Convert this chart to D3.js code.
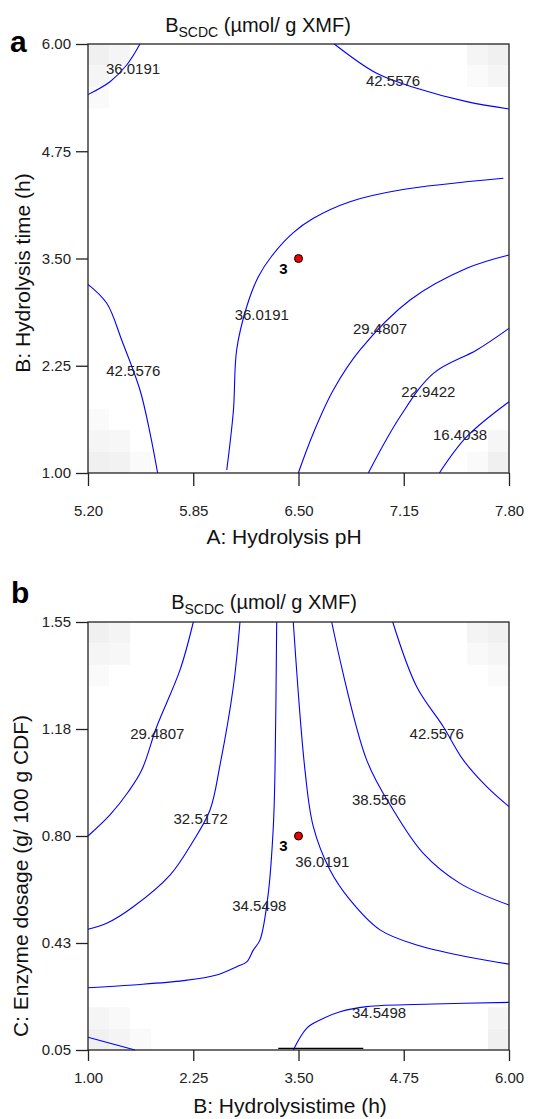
<!DOCTYPE html>
<html>
<head>
<meta charset="utf-8">
<script src="https://cdn.jsdelivr.net/npm/d3@7"></script>
<style>
  body { margin: 0; background: #fff; }
  svg { display: block; font-family: "Liberation Sans", Arial, sans-serif; }
</style>
</head>
<body>
<svg id="chart" width="534" height="1119"></svg>
<script>
// ---- data ----

// tick values and their printed labels
const phTicks = [5.2, 5.85, 6.5, 7.15, 7.8];
const phTickLabels = ['5.20', '5.85', '6.50', '7.15', '7.80'];
const timeTicks = [1, 2.25, 3.5, 4.75, 6];
const timeTickLabels = ['1.00', '2.25', '3.50', '4.75', '6.00'];
const dosageTicks = [0.05, 0.425, 0.8, 1.175, 1.55];
const dosageTickLabels = ['0.05', '0.43', '0.80', '1.18', '1.55'];

// panel a contours: [pH, time]
const contoursA = [
    [[5.2, 5.41], [5.336, 5.56], [5.439, 5.755], [5.521, 6.0]],
    [[6.721, 6.0], [6.983, 5.658], [7.23, 5.484], [7.539, 5.328], [7.8, 5.242]],
    [[7.765, 4.435], [7.127, 4.298], [6.818, 4.162], [6.592, 3.969], [6.468, 3.801],
     [6.335, 3.529], [6.252, 3.288], [6.18, 2.938], [6.118, 2.434], [6.098, 1.728], [6.057, 1.035]],
    [[5.2, 3.199], [5.316, 2.978], [5.408, 2.55], [5.521, 1.967], [5.583, 1.466], [5.63, 1.0]],
    [[7.8, 3.541], [7.539, 3.386], [7.189, 3.016], [6.88, 2.434], [6.715, 1.967], [6.592, 1.466], [6.499, 1.0]],
    [[7.8, 2.686], [7.601, 2.434], [7.333, 2.162], [7.127, 1.656], [6.931, 1.0]],
    [[7.8, 1.831], [7.539, 1.423], [7.37, 1.0]]
];
const labelsA = [
    ['36.0191', 5.478, 5.709],
    ['42.5576', 7.084, 5.572],
    ['36.0191', 6.273, 2.841],
    ['29.4807', 7.004, 2.686],
    ['42.5576', 5.48, 2.19],
    ['22.9422', 7.302, 1.948],
    ['16.4038', 7.498, 1.443]
];
const centerA = [6.5, 3.5];

// panel b contours: [time, dosage]
const contoursB = [
    [[2.251, 1.55], [2.093, 1.382], [1.816, 1.183], [1.638, 1.031], [1.479, 0.955], [1.261, 0.874], [1.0, 0.8]],
    [[2.805, 1.55], [2.726, 1.323], [2.568, 1.049], [2.449, 0.891], [2.232, 0.774], [1.974, 0.663],
     [1.538, 0.552], [1.222, 0.494], [1.0, 0.473]],
    [[3.241, 1.55], [3.221, 1.031], [3.201, 0.833], [3.141, 0.599], [3.043, 0.436], [2.963, 0.4],
     [2.885, 0.359], [2.766, 0.342], [2.528, 0.313], [2.132, 0.293], [1.538, 0.278], [1.0, 0.268]],
    [[3.438, 1.55], [3.577, 1.031], [3.676, 0.833], [3.874, 0.681], [4.112, 0.576], [4.468, 0.471],
     [4.904, 0.418], [5.498, 0.377], [6.0, 0.351]],
    [[3.894, 1.55], [4.31, 1.066], [4.626, 0.891], [4.982, 0.739], [5.418, 0.634], [6.0, 0.558]],
    [[4.619, 1.55], [4.904, 1.323], [5.22, 1.183], [5.458, 1.066], [5.735, 0.973], [6.0, 0.903]],
    [[3.438, 0.05], [3.597, 0.126], [3.755, 0.155], [3.993, 0.184], [4.31, 0.202], [5.101, 0.211], [6.0, 0.217]],
    [[1.0, 0.095], [1.558, 0.05]]
];
const labelsB = [
    ['29.4807', 1.823, 1.16],
    ['42.5576', 5.141, 1.16],
    ['38.5566', 4.456, 0.926],
    ['32.5172', 2.338, 0.86],
    ['36.0191', 3.783, 0.71],
    ['34.5498', 3.035, 0.556],
    ['34.5498', 4.456, 0.182]
];
const centerB = [3.5, 0.8];
const baseSegmentB = [[3.26, 0.056], [4.27, 0.056]];

// faint grey background cells near the corners: [x, y, shade]
const shadeA = [
    [5.2, 5.75, 0.06], [5.33, 5.75, 0.04], [5.2, 5.5, 0.04], [5.2, 5.25, 0.02],
    [7.67, 5.75, 0.06], [7.54, 5.75, 0.04], [7.67, 5.5, 0.04], [7.54, 5.5, 0.02],
    [5.2, 1.0, 0.06], [5.33, 1.0, 0.05], [5.46, 1.0, 0.02], [5.2, 1.25, 0.04],
    [5.33, 1.25, 0.03], [5.2, 1.5, 0.02],
    [7.67, 1.0, 0.06], [7.67, 1.25, 0.035], [7.54, 1.0, 0.02]
];
const shadeB = [
    [1.0, 1.475, 0.06], [1.25, 1.475, 0.045], [1.0, 1.4, 0.04], [1.25, 1.4, 0.03], [1.0, 1.325, 0.02],
    [5.75, 1.475, 0.06], [5.5, 1.475, 0.045], [5.75, 1.4, 0.04], [5.5, 1.4, 0.025], [5.75, 1.325, 0.02],
    [1.0, 0.05, 0.06], [1.25, 0.05, 0.045], [1.5, 0.05, 0.02], [1.0, 0.125, 0.04], [1.25, 0.125, 0.025],
    [5.75, 0.05, 0.06], [5.75, 0.125, 0.045]
];

const svg = d3.select('#chart');
const grey = d3.scaleLinear().domain([0, 1]).range(['#ffffff', '#000000']);

function drawPanel(p) {
    const x = d3.scaleLinear().domain(p.xDomain).range([88, 509]);
    const y = d3.scaleLinear().domain(p.yDomain).range([p.bottom, p.top]);
    const g = svg.append('g');

    // background cells
    g.selectAll('.cell')
        .data(p.shade)
        .enter()
        .append('rect')
        .attr('x', (d) => x(d[0]))
        .attr('y', (d) => y(d[1] + p.cell[1]))
        .attr('width', (d) => x(d[0] + p.cell[0]) - x(d[0]))
        .attr('height', (d) => y(d[1]) - y(d[1] + p.cell[1]))
        .attr('fill', (d) => grey(d[2]));

    const line = d3.line()
        .x((d) => x(d[0]))
        .y((d) => y(d[1]))
        .curve(d3.curveCatmullRom.alpha(0.5));

    g.selectAll('.contour')
        .data(p.contours)
        .enter()
        .append('path')
        .attr('d', line)
        .attr('fill', 'none')
        .attr('stroke', '#0000ff')
        .attr('stroke-width', 1.1);

    g.selectAll('.clabel')
        .data(p.labels)
        .enter()
        .append('text')
        .attr('x', (d) => x(d[1]))
        .attr('y', (d) => y(d[2]))
        .attr('dy', '0.35em')
        .attr('text-anchor', 'middle')
        .attr('font-size', 15)
        .attr('fill', '#222')
        .text((d) => d[0]);

    if (p.segment) {
        g.append('path')
            .attr('d', d3.line().x((d) => x(d[0])).y((d) => y(d[1]))(p.segment))
            .attr('stroke', '#000')
            .attr('stroke-width', 1.2);
    }

    // frame
    g.append('rect')
        .attr('x', 88).attr('y', p.top)
        .attr('width', 421).attr('height', p.bottom - p.top)
        .attr('fill', 'none')
        .attr('stroke', '#222')
        .attr('stroke-width', 1.3);

    // axes
    const xAxis = g.append('g')
        .attr('transform', `translate(0, ${p.bottom})`)
        .call(d3.axisBottom(x)
            .tickValues(p.xTicks)
            .tickFormat((d, i) => p.xTickLabels[i])
            .tickSize(p.xTickSize)
            .tickSizeOuter(0)
            .tickPadding(p.xPad));
    const yAxis = g.append('g')
        .attr('transform', 'translate(88, 0)')
        .call(d3.axisLeft(y)
            .tickValues(p.yTicks)
            .tickFormat((d, i) => p.yTickLabels[i])
            .tickSize(12)
            .tickSizeOuter(0)
            .tickPadding(5));
    [xAxis, yAxis].forEach((a) => {
        a.select('.domain').remove();
        a.selectAll('line').attr('stroke', '#222').attr('stroke-width', 1.3);
        a.selectAll('text')
            .attr('font-size', 15)
            .attr('font-family', '"Liberation Sans", Arial, sans-serif')
            .attr('fill', '#222');
    });

    // centre point with replicate count
    const cx = x(p.center[0]);
    const cy = y(p.center[1]);
    g.append('circle')
        .attr('cx', cx).attr('cy', cy).attr('r', 4)
        .attr('fill', '#ee0000')
        .attr('stroke', '#000')
        .attr('stroke-width', 1);
    g.append('text')
        .attr('x', cx - 15).attr('y', cy + 15)
        .attr('text-anchor', 'middle')
        .attr('font-size', 15)
        .attr('font-weight', 'bold')
        .text('3');

    // title
    const title = g.append('text')
        .attr('x', p.titleX).attr('y', p.titleY)
        .attr('text-anchor', 'middle')
        .attr('font-size', 20)
        .attr('fill', '#111');
    title.append('tspan').text('B');
    title.append('tspan').attr('font-size', 14).attr('dy', 5).text('SCDC');
    title.append('tspan').attr('dy', -5).text(' (\u00b5mol/ g XMF)');

    g.append('text')
        .attr('x', p.letterX).attr('y', p.letterY)
        .attr('font-size', 30)
        .attr('font-weight', 'bold')
        .text(p.letter);

    g.append('text')
        .attr('x', p.xTitleX).attr('y', p.xTitleY)
        .attr('text-anchor', 'middle')
        .attr('font-size', 21)
        .attr('fill', '#111')
        .text(p.xTitle);

    g.append('text')
        .attr('transform', `translate(${p.yTitleX}, ${p.yTitleY}) rotate(-90)`)
        .attr('text-anchor', 'middle')
        .attr('dy', '0.35em')
        .attr('font-size', 21)
        .attr('fill', '#111')
        .text(p.yTitle);
}

drawPanel({
    xDomain: [5.2, 7.8], yDomain: [1, 6], top: 44, bottom: 473,
    xTicks: phTicks, xTickLabels: phTickLabels,
    yTicks: timeTicks, yTickLabels: timeTickLabels,
    xTickSize: 13, xPad: 19,
    contours: contoursA, labels: labelsA, center: centerA,
    shade: shadeA, cell: [0.13, 0.25],
    titleX: 258, titleY: 32,
    letter: 'a', letterX: 10, letterY: 52,
    xTitle: 'A: Hydrolysis pH', xTitleX: 284, xTitleY: 544,
    yTitle: 'B: Hydrolysis time (h)', yTitleX: 23, yTitleY: 273
});

drawPanel({
    xDomain: [1, 6], yDomain: [0.05, 1.55], top: 622, bottom: 1050,
    xTicks: timeTicks, xTickLabels: timeTickLabels,
    yTicks: dosageTicks, yTickLabels: dosageTickLabels,
    xTickSize: 11, xPad: 11,
    contours: contoursB, labels: labelsB, center: centerB,
    shade: shadeB, cell: [0.25, 0.075], segment: baseSegmentB,
    titleX: 264, titleY: 609,
    letter: 'b', letterX: 11, letterY: 603,
    xTitle: 'B: Hydrolysistime (h)', xTitleX: 290, xTitleY: 1113,
    yTitle: 'C: Enzyme dosage (g/ 100 g CDF)', yTitleX: 21, yTitleY: 876
});
</script>
</body>
</html>
